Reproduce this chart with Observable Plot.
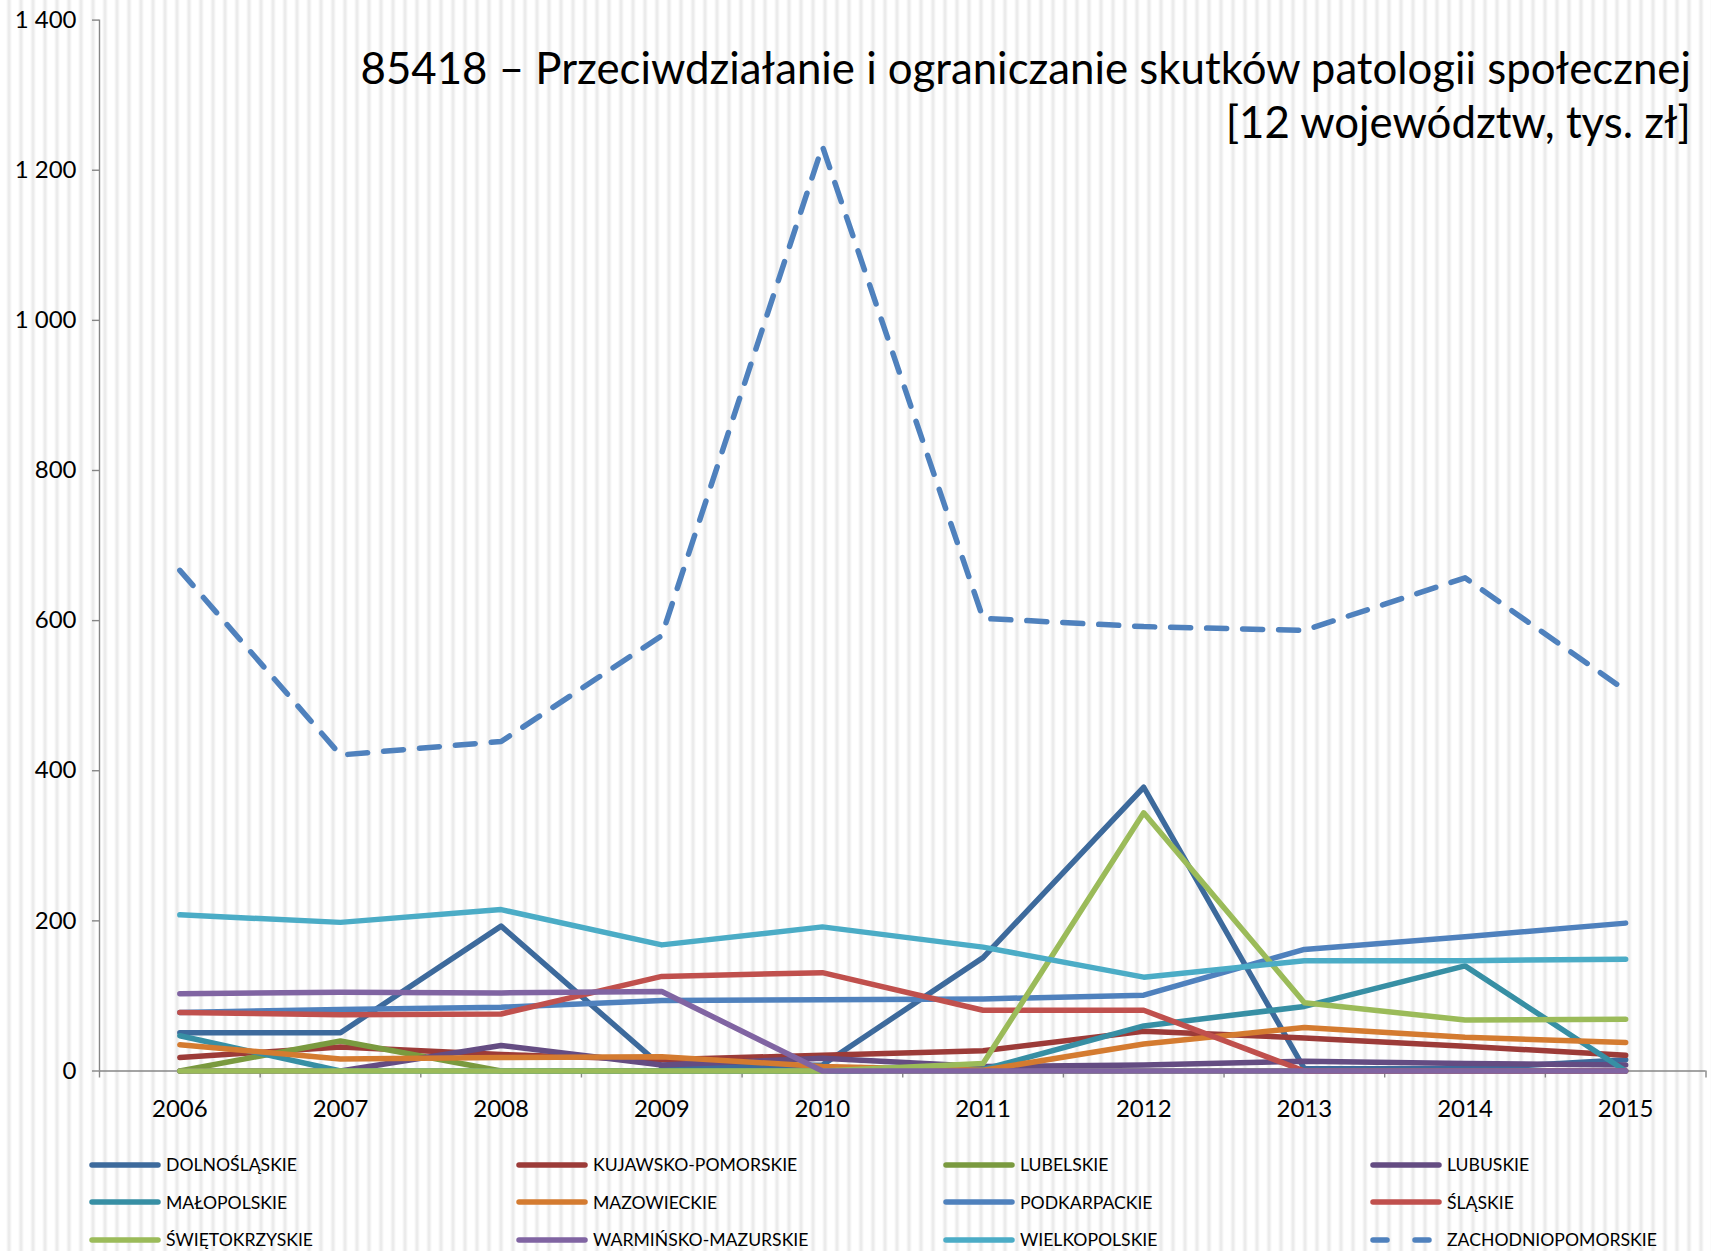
<!DOCTYPE html>
<html>
<head>
<meta charset="utf-8">
<script src="https://cdn.jsdelivr.net/npm/d3@7"></script>
<script src="https://cdn.jsdelivr.net/npm/@observablehq/plot@0.6"></script>
<style>
  html, body { margin: 0; padding: 0; }
  body {
    width: 1711px; height: 1251px; overflow: hidden;
    background-color: #fff;
    background-image: repeating-linear-gradient(90deg, #ffffff 0px, #ffffff 6px, #efefef 8px, #e8e8e8 9px, #efefef 10px, #ffffff 12px);
    font-family: Lato, "Open Sans", "DejaVu Sans", sans-serif;
  }
  #wrap { position: relative; width: 1711px; height: 1251px; }
  #title { position: absolute; right: 20px; top: 39px; text-align: right; font-size: 48px; line-height: 54px; color: #000; white-space: nowrap; }
  #legend { position: absolute; left: 89px; top: 1146px; display: grid; grid-template-columns: repeat(4, 427px); grid-auto-rows: 37.5px; }
  .item { display: flex; align-items: center; font-size: 18px; color: #000; white-space: nowrap; }
  .item svg { flex: none; margin-right: 5px; }
</style>
</head>
<body>
<div id="wrap">
  <div id="chart"></div>
  <div id="title"></div>
  <div id="legend"></div>
</div>
<script>
// ---- data ----
const years = [2006, 2007, 2008, 2009, 2010, 2011, 2012, 2013, 2014, 2015];
const seriesNames = ["DOLNOŚLĄSKIE", "KUJAWSKO-POMORSKIE", "LUBELSKIE", "LUBUSKIE",
  "MAŁOPOLSKIE", "MAZOWIECKIE", "PODKARPACKIE", "ŚLĄSKIE",
  "ŚWIĘTOKRZYSKIE", "WARMIŃSKO-MAZURSKIE", "WIELKOPOLSKIE", "ZACHODNIOPOMORSKIE"];
const dolnoslaskie       = [51, 51, 193, 6, 8, 151, 378, 3, 3, 15];
const kujawskoPomorskie  = [18, 32, 22, 15, 21, 27, 53, 44, 33, 21];
const lubelskie          = [0, 40, 0, 0, 0, 0, 0, 0, 0, 0];
const lubuskie           = [0, 0, 34, 8, 17, 6, 8, 13, 10, 8];
const malopolskie        = [47, 0, 0, 0, 0, 2, 60, 86, 140, 0];
const mazowieckie        = [35, 16, 18, 19, 6, 1, 36, 58, 45, 38];
const podkarpackie       = [78, 82, 85, 94, 95, 96, 101, 162, 179, 197];
const slaskie            = [78, 75, 76, 126, 131, 81, 81, 0, 0, 0];
const swietokrzyskie     = [0, 0, 0, 0, 0, 10, 344, 91, 68, 69];
const warminskoMazurskie = [103, 105, 104, 106, 0, 0, 0, 0, 0, 0];
const wielkopolskie      = [208, 198, 215, 168, 192, 165, 125, 147, 147, 149];
const zachodniopomorskie = [667, 421, 439, 580, 1232, 603, 592, 587, 657, 507];
const yTicks = [0, 200, 400, 600, 800, 1000, 1200, 1400];
const titleLines = ["85418 – Przeciwdziałanie i ograniczanie skutków patologii społecznej", "[12 województw, tys. zł]"];

const seriesValues = [dolnoslaskie, kujawskoPomorskie, lubelskie, lubuskie, malopolskie, mazowieckie,
  podkarpackie, slaskie, swietokrzyskie, warminskoMazurskie, wielkopolskie, zachodniopomorskie];

// ---- styles ----
const seriesColors = ["#3D6A9C", "#9C3B38", "#7A9A3F", "#644C82", "#378FA4", "#D47B30",
  "#4F81BD", "#C0504D", "#9BBB59", "#8064A2", "#4BACC6", "#4F81BD"];
const dashed = [false, false, false, false, false, false, false, false, false, false, false, true];
const gray = "#868686";
const fmt = d => d3.format(",")(d).replace(/,/g, " ");

const rows = seriesNames.map((name, i) => years.map((y, j) => ({name, year: y, value: seriesValues[i][j]})));
const bounds = [...years.map(y => y - 0.5), years[years.length - 1] + 0.5];

const marks = [
  Plot.ruleY([0], {stroke: gray, strokeWidth: 1.4}),
  Plot.ruleX([bounds[0]], {stroke: gray, strokeWidth: 1.4}),
  Plot.axisX({ticks: bounds, tickSize: 7, tickFormat: () => "", label: null, stroke: gray, strokeWidth: 1.4}),
  Plot.axisX({ticks: years, tickSize: 0, tickPadding: 29, tickFormat: d => String(d), label: null, fontSize: 24, fill: "#000"}),
  Plot.axisY({ticks: yTicks, tickSize: 7, tickPadding: 16, tickFormat: fmt, label: null, fontSize: 24, stroke: gray, strokeWidth: 1.4, fill: "#000"})
];
rows.forEach((data, i) => {
  marks.push(Plot.line(data, {
    x: "year", y: "value", stroke: seriesColors[i], strokeWidth: 5.5,
    strokeLinecap: "round", strokeLinejoin: "round",
    strokeDasharray: dashed[i] ? "20,16" : null
  }));
});

const svg = Plot.plot({
  width: 1711,
  height: 1140,
  marginLeft: 99,
  marginRight: 5.5,
  marginTop: 19.6,
  marginBottom: 69.5,
  style: {background: "transparent", fontFamily: "Lato, 'Open Sans', sans-serif", fontSize: "24px", color: "#000", overflow: "visible"},
  x: {type: "linear", domain: [bounds[0], bounds[bounds.length - 1]], label: null},
  y: {domain: [0, 1400], label: null},
  marks
});
document.getElementById("chart").appendChild(svg);

// title
const titleEl = document.getElementById("title");
titleLines.forEach((line, i) => {
  const d = document.createElement("div");
  const s = document.createElement("span");
  s.textContent = line;
  if (i === 0) s.id = "t1";
  d.appendChild(s);
  titleEl.appendChild(d);
});

// legend
const legendEl = document.getElementById("legend");
seriesNames.forEach((name, i) => {
  const it = document.createElement("div");
  it.className = "item";
  const ns = "http://www.w3.org/2000/svg";
  const sw = document.createElementNS(ns, "svg");
  sw.setAttribute("width", 72); sw.setAttribute("height", 12);
  const ln = document.createElementNS(ns, "line");
  ln.setAttribute("x1", 3); ln.setAttribute("x2", 69); ln.setAttribute("y1", 6); ln.setAttribute("y2", 6);
  ln.setAttribute("stroke", seriesColors[i]); ln.setAttribute("stroke-width", 5.5);
  ln.setAttribute("stroke-linecap", "round");
  if (dashed[i]) ln.setAttribute("stroke-dasharray", "14,28");
  sw.appendChild(ln);
  const tx = document.createElement("span");
  tx.textContent = name;
  if (i === 0) tx.id = "l1";
  it.appendChild(sw); it.appendChild(tx);
  legendEl.appendChild(it);
});

function fit() {
  const t1 = document.getElementById("t1");
  const w = t1.getBoundingClientRect().width;
  const F = 48 * 1331 / w;
  const L = 54;
  titleEl.style.fontSize = F + "px";
  titleEl.style.top = (84 - L / 2 - 0.387 * F) + "px";
  const l1 = document.getElementById("l1");
  const lw = l1.getBoundingClientRect().width;
  const LF = 18 * 131 / lw;
  legendEl.querySelectorAll(".item").forEach(e => e.style.fontSize = LF + "px");
}
fit();
if (document.fonts && document.fonts.ready) document.fonts.ready.then(() => { titleEl.style.fontSize = "48px"; document.querySelectorAll(".item").forEach(e => e.style.fontSize = "18px"); fit(); });
</script>
</body>
</html>
